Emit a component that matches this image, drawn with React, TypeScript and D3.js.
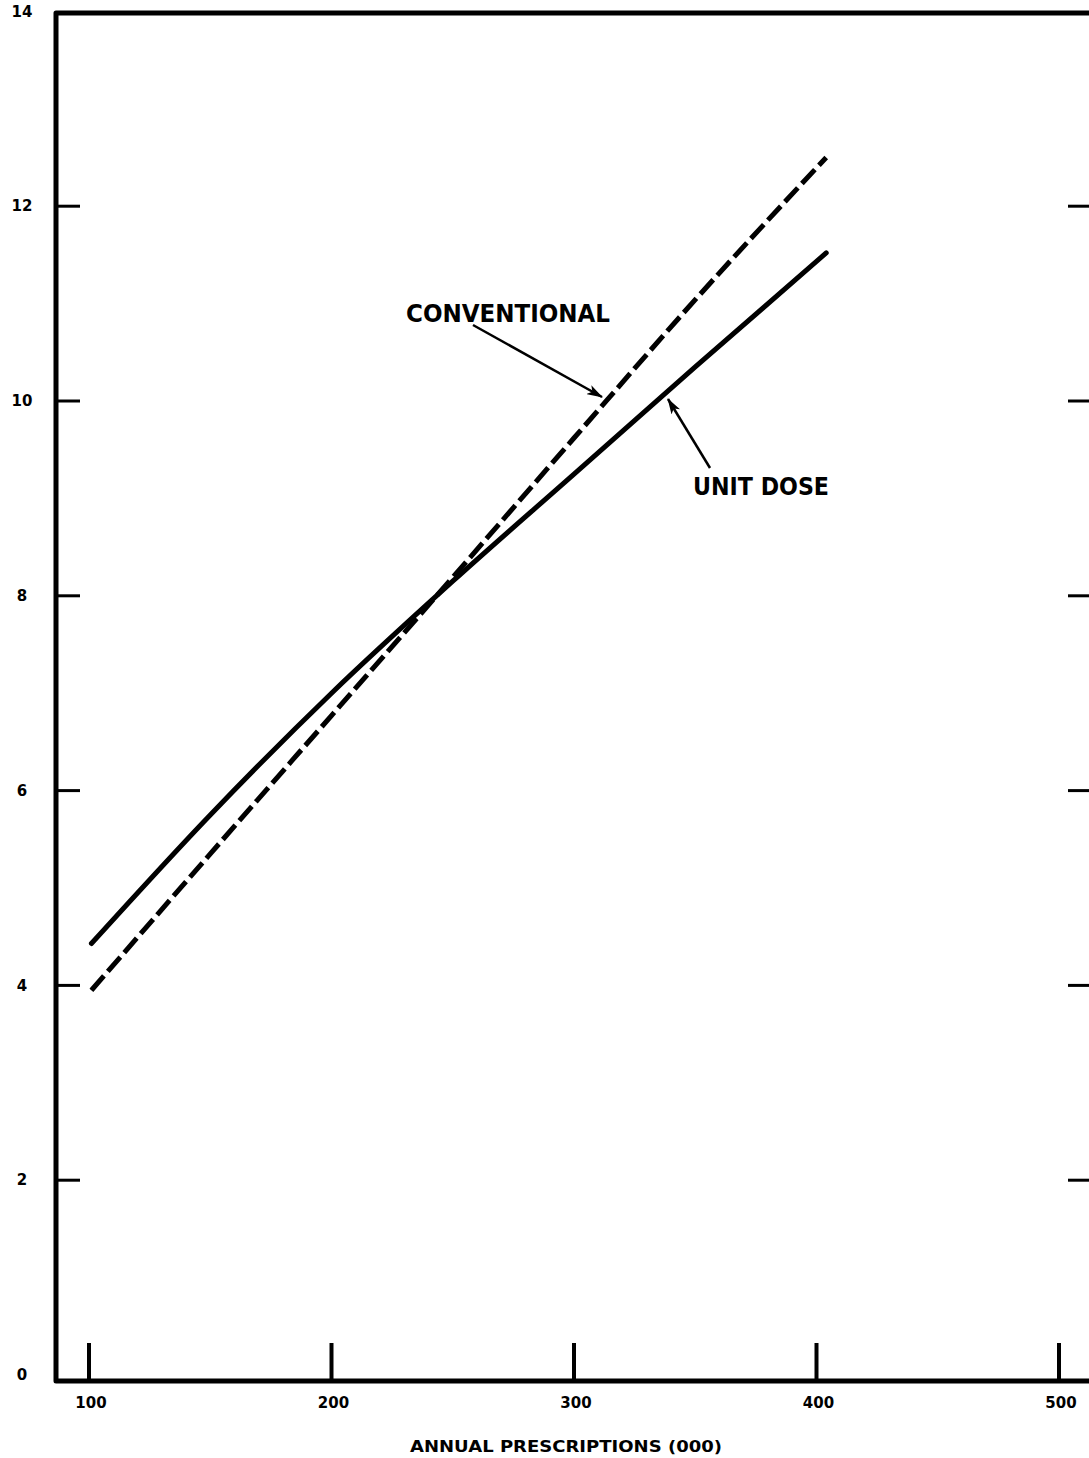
import React from "react";
import * as d3 from "d3";

const xTicks = [100, 200, 300, 400, 500];
const yTicks = [0, 2, 4, 6, 8, 10, 12, 14];
const xValues = [101, 150, 200, 250, 300, 350, 404];
const conventional = [3.95, 5.35, 6.77, 8.19, 9.62, 11.04, 12.5];
const unitDose = [4.43, 5.75, 7.0, 8.15, 9.25, 10.35, 11.52];
const xTitle = "ANNUAL PRESCRIPTIONS (000)";
const labelConventional = "CONVENTIONAL";
const labelUnitDose = "UNIT DOSE";

const W = 1089;
const H = 1458;
const FONT = "'DejaVu Sans', Verdana, sans-serif";

export default function App() {
  const x = d3.scaleLinear().domain([100, 500]).range([89, 1059]);
  const y = d3.scaleLinear().domain([0, 14]).range([1375, 11.4]);

  const axisLeft = 56;
  const axisTop = 13;
  const axisBottom = 1381;

  const line = d3
    .line<[number, number]>()
    .x((d) => x(d[0]))
    .y((d) => y(d[1]))
    .curve(d3.curveMonotoneX);

  const convPath = line(xValues.map((v, i) => [v, conventional[i]] as [number, number])) || "";
  const unitPath = line(xValues.map((v, i) => [v, unitDose[i]] as [number, number])) || "";

  return (
    <svg
      width={W}
      height={H}
      viewBox={`0 0 ${W} ${H}`}
      style={{ position: "absolute", left: 0, top: 0, background: "#fff" }}
    >
      <defs>
        <marker
          id="arrowBig"
          viewBox="0 0 16 10"
          refX="15"
          refY="5"
          markerWidth="16"
          markerHeight="10"
          markerUnits="userSpaceOnUse"
          orient="auto"
        >
          <path d="M0,0 L16,5 L0,10 L4,5 Z" fill="#000" />
        </marker>
      </defs>

      {/* frame */}
      <path
        d={`M${W + 5},${axisTop} L${axisLeft},${axisTop} L${axisLeft},${axisBottom} L${W + 5},${axisBottom}`}
        fill="none"
        stroke="#000"
        strokeWidth={5}
        strokeLinejoin="round"
      />

      {/* y ticks left and right */}
      {yTicks
        .filter((t) => t > 0 && t < 14)
        .map((t) => (
          <g key={`yt${t}`}>
            <line x1={axisLeft} x2={80} y1={y(t)} y2={y(t)} stroke="#000" strokeWidth={3} />
            <line x1={1068} x2={W + 5} y1={y(t)} y2={y(t)} stroke="#000" strokeWidth={3} />
          </g>
        ))}
      {yTicks.map((t) => (
        <text
          key={`yl${t}`}
          x={22}
          y={y(t)}
          dy="0.35em"
          textAnchor="middle"
          fontFamily={FONT}
          fontWeight="bold"
          fontSize={15}
          fill="#000"
        >
          {t}
        </text>
      ))}

      {/* x ticks */}
      {xTicks.map((t) => (
        <g key={`xt${t}`}>
          <line x1={x(t)} x2={x(t)} y1={1343} y2={axisBottom} stroke="#000" strokeWidth={4} />
          <text
            x={x(t) + 2}
            y={1408}
            textAnchor="middle"
            fontFamily={FONT}
            fontWeight="bold"
            fontSize={15}
            fill="#000"
          >
            {t}
          </text>
        </g>
      ))}

      <text
        x={410}
        y={1452}
        textLength={312}
        lengthAdjust="spacingAndGlyphs"
        fontFamily={FONT}
        fontWeight="bold"
        fontSize={15}
        fill="#000"
      >
        {xTitle}
      </text>

      {/* lines */}
      <path d={unitPath} fill="none" stroke="#000" strokeWidth={5} strokeLinecap="round" />
      <path
        d={convPath}
        fill="none"
        stroke="#000"
        strokeWidth={5}
        strokeDasharray="19 6"
        strokeLinecap="butt"
      />

      {/* annotations */}
      <text
        x={406}
        y={322}
        textLength={204}
        lengthAdjust="spacingAndGlyphs"
        fontFamily={FONT}
        fontWeight="bold"
        fontSize={24}
        fill="#000"
      >
        {labelConventional}
      </text>
      <line
        x1={473}
        y1={325}
        x2={602}
        y2={397}
        stroke="#000"
        strokeWidth={2.5}
        markerEnd="url(#arrowBig)"
      />

      <text
        x={693}
        y={495}
        textLength={136}
        lengthAdjust="spacingAndGlyphs"
        fontFamily={FONT}
        fontWeight="bold"
        fontSize={24}
        fill="#000"
      >
        {labelUnitDose}
      </text>
      <line
        x1={710}
        y1={468}
        x2={668}
        y2={399}
        stroke="#000"
        strokeWidth={2.5}
        markerEnd="url(#arrowBig)"
      />
    </svg>
  );
}
